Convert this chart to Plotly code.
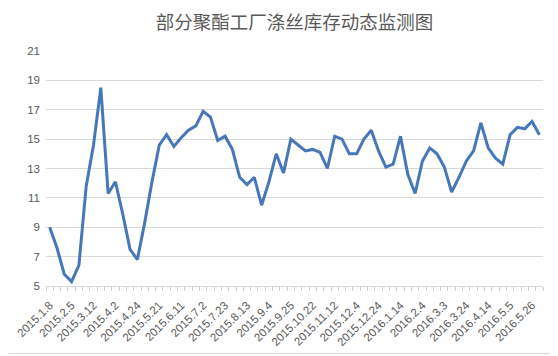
import plotly.graph_objects as go

tick_labels = ["2015.1.8", "2015.2.5", "2015.3.12", "2015.4.2", "2015.4.24", "2015.5.21",
               "2015.6.11", "2015.7.2", "2015.7.23", "2015.8.13", "2015.9.4", "2015.9.25",
               "2015.10.22", "2015.11.12", "2015.12.4", "2015.12.24", "2016.1.14", "2016.2.4",
               "2016.3.3", "2016.3.24", "2016.4.14", "2016.5.5", "2016.5.26"]

values = [9.0, 7.6, 5.8, 5.3, 6.4, 11.8, 14.6, 18.5, 11.3, 12.1,
          9.9, 7.5, 6.8, 9.3, 12.1, 14.6, 15.3, 14.5, 15.1, 15.6,
          15.9, 16.9, 16.5, 14.9, 15.2, 14.3, 12.4, 11.9, 12.4, 10.5,
          12.1, 14.0, 12.7, 15.0, 14.6, 14.2, 14.3, 14.1, 13.0, 15.2,
          15.0, 14.0, 14.0, 15.0, 15.6, 14.2, 13.1, 13.3, 15.2, 12.6,
          11.3, 13.5, 14.4, 14.0, 13.1, 11.4, 12.4, 13.5, 14.2, 16.1,
          14.4, 13.7, 13.3, 15.3, 15.8, 15.7, 16.2, 15.3]

idx = list(range(len(values)))
label_pos = idx[::3]

fig = go.Figure()
fig.add_trace(go.Scatter(x=idx, y=values, mode="lines",
                         line=dict(color="#4677B9", width=3), hoverinfo="y"))

# page has an 8px body margin, so the figure is 8px smaller and shifted
OFF = 8
W, H = 558 - OFF, 356 - OFF
L, R, T, B = 45.7 - OFF, 15, 51.3 - OFF, 70.3
pw, ph = W - L - R, H - T - B

fig.update_layout(
    width=W, height=H,
    margin=dict(l=L, r=R, t=T, b=B, autoexpand=False),
    paper_bgcolor="white", plot_bgcolor="white",
    showlegend=False,
    title=dict(text="部分聚酯工厂涤丝库存动态监测图", x=0.5, xref="paper",
               y=1 - (22.5 - OFF) / H, yanchor="middle",
               font=dict(family="Noto Sans CJK SC", size=18.5, color="#595959")),
    xaxis=dict(range=[-0.5, len(values) - 0.5], tickmode="array", tickvals=label_pos,
               ticktext=tick_labels, tickangle=-45, ticks="", showgrid=False,
               showline=True, linecolor="#d9d9d9", linewidth=1, zeroline=False,
               automargin=False, ticklabelstandoff=7,
               tickfont=dict(family="Liberation Sans", size=11.5, color="#595959"),
               minor=dict(ticks="outside", tickmode="linear", tick0=-0.5, dtick=1,
                          ticklen=4, tickcolor="#d0d0d0", tickwidth=1, showgrid=False)),
    yaxis=dict(range=[5, 21], dtick=2, tick0=5, showgrid=True, gridcolor="#d9d9d9",
               gridwidth=1, zeroline=False, showline=False, ticks="", automargin=False,
               ticklabelstandoff=5,
               tickfont=dict(family="Liberation Sans", size=11.5, color="#595959")),
)

# visible right and bottom edges of the chart border
fig.add_shape(type="line", xref="paper", yref="paper",
              x0=(555 - OFF - L) / pw, x1=(555 - OFF - L) / pw,
              y0=(H - B - (353 - OFF)) / ph, y1=(H - B) / ph + T / ph,
              line=dict(color="#d9d9d9", width=1), layer="below")
fig.add_shape(type="line", xref="paper", yref="paper",
              x0=-L / pw, x1=(555 - OFF - L) / pw,
              y0=(H - B - (353 - OFF)) / ph, y1=(H - B - (353 - OFF)) / ph,
              line=dict(color="#d9d9d9", width=1), layer="below")

fig.write_html("out.html")
